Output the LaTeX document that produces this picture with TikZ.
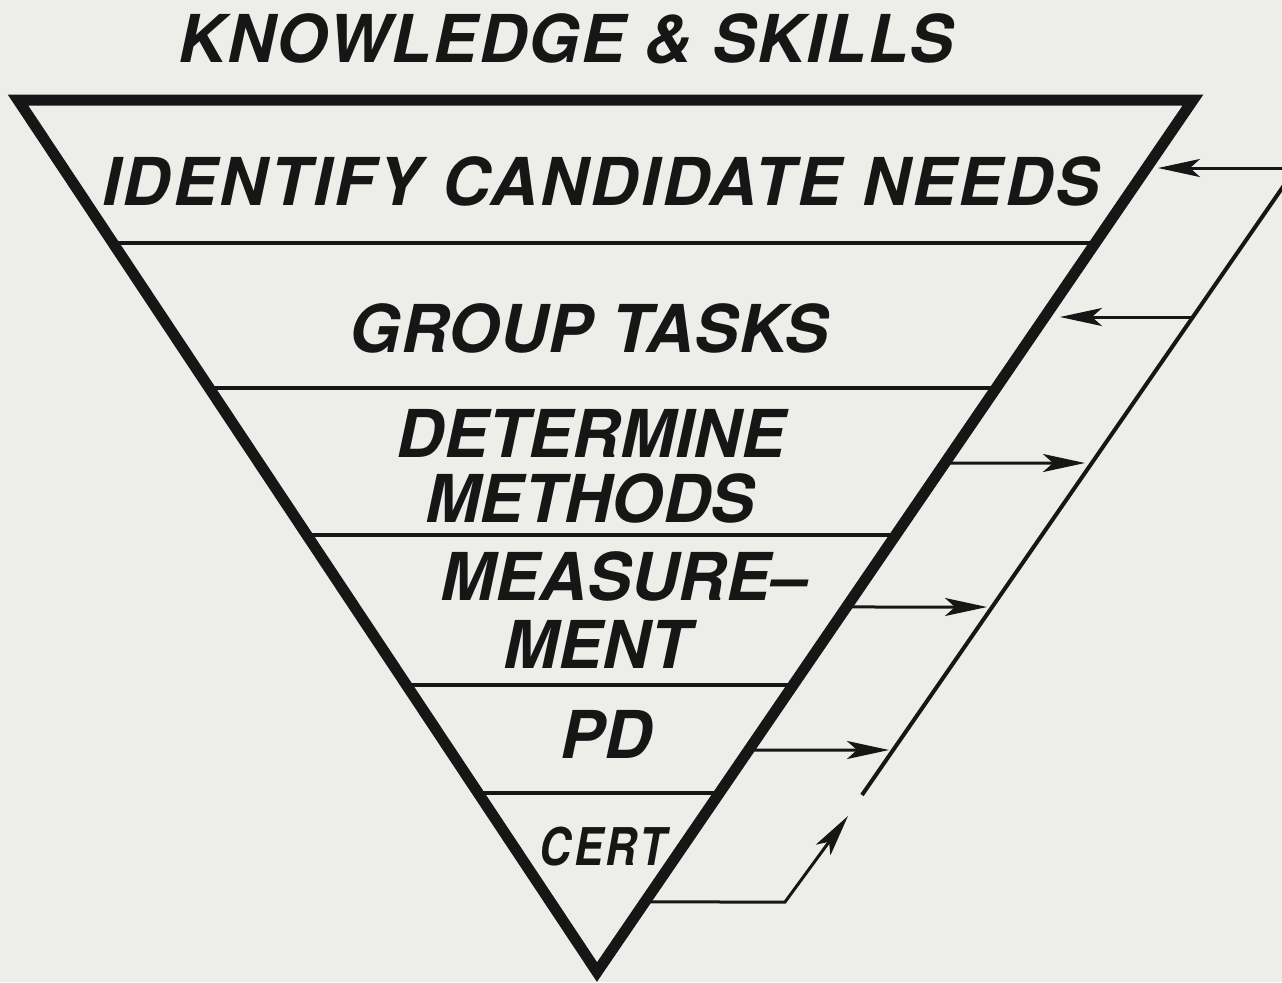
\documentclass[tikz,border=0pt]{standalone}
\usepackage{fontspec}
\setmainfont{TeX Gyre Heros}
\usetikzlibrary{arrows.meta,calc}
\definecolor{paper}{RGB}{237,237,233}
\definecolor{ink}{RGB}{22,22,22}
\begin{document}
\begin{tikzpicture}[x=0.5pt,y=-0.5pt,
  edge/.style={draw=ink,line width=5.5pt,line join=miter},
  divider/.style={draw=ink,line width=1.7pt},
  feed/.style={draw=ink,line width=1.5pt},
  fb/.style={feed,-{Stealth[length=21pt,width=9pt,inset=5pt]}},
  lbl/.style={text=ink,font=\fontsize{33}{36}\selectfont\bfseries\itshape,anchor=base,inner sep=0pt}]
\fill[paper] (0,0) rectangle (1282,982);
\clip (0,0) rectangle (1282,982);
% triangle
\coordinate (L) at (18,100);
\coordinate (R) at (1193,100);
\coordinate (A) at (597,972);
\draw[edge] (L) -- (R) -- (A) -- cycle;
% dividers
\foreach \t/\n in {0.164/1,0.3303/2,0.4989/3,0.6709/4,0.7947/5}{
  \coordinate (d\n l) at ($(L)!\t!(A)$);
  \coordinate (d\n r) at ($(R)!\t!(A)$);
}
\draw[divider] (d1l) -- (d1r);
\draw[divider] (d2l) -- (d2r);
\draw[divider] (d3l) -- (d3r);
\draw[divider] (d4l) -- (d4r);
\draw[divider] (d5l) -- (d5r);
% labels
\node[lbl] (ks) at (566,62) {\addfontfeature{LetterSpace=2.2}KNOWLEDGE \& SKILLS};
\node[lbl] (n1) at (601,205) {\addfontfeature{LetterSpace=4}IDENTIFY CANDIDATE NEEDS};
\node[lbl] (n2) at (589,352) {\addfontfeature{LetterSpace=1}GROUP TASKS};
\node[lbl] (n3a) at (591,457) {DETERMINE};
\node[lbl] (n3b) at (590,522) {METHODS};
\node[lbl] (n4a) at (624,600) {MEASURE–};
\node[lbl] (n4b) at (597,668) {MENT};
\node[lbl] (n5) at (606,758) {PD};
\node[lbl,font=\fontsize{26}{28}\selectfont\bfseries\itshape] (n6) at (603,865) {\scalebox{0.84}[1]{\addfontfeature{LetterSpace=6}CERT}};
% feedback loop
\coordinate (Ftop) at (1296,168);
\coordinate (Fbot) at (862,795);
\draw[feed,line width=2pt] (Fbot) -- (Ftop);
\coordinate (i1) at (1158,168);
\draw[fb] (Ftop) -- (i1);
\coordinate (F2) at (1193,317);
\coordinate (i2) at (1060,317);
\draw[fb] (F2) -- (i2);
\coordinate (o3) at ($(R)!0.4163!(A)$);
\coordinate (t3) at (1085,463);
\draw[fb] (o3) -- (t3);
\coordinate (o4) at ($(R)!0.5814!(A)$);
\coordinate (t4) at (987,607);
\draw[fb] (o4) -- (t4);
\coordinate (o5) at ($(R)!0.7454!(A)$);
\coordinate (t5) at (889,750);
\draw[fb] (o5) -- (t5);
\coordinate (o6) at ($(R)!0.9197!(A)$);
\coordinate (k6) at (785,902);
\coordinate (t6) at (848,816);
\draw[fb] (o6) -- (k6) -- (t6);
\end{tikzpicture}
\end{document}
